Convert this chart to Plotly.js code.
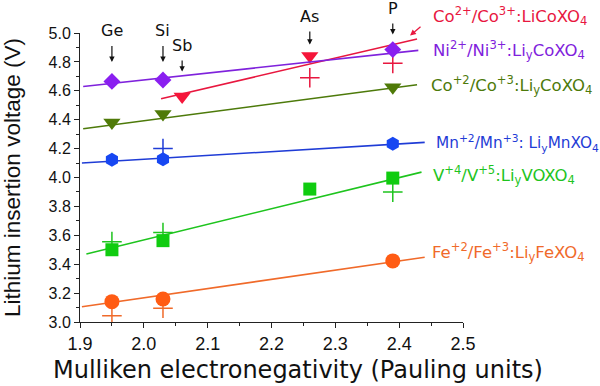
<!DOCTYPE html>
<html>
<head>
<meta charset="utf-8">
<script src="https://cdn.plot.ly/plotly-3.0.1.min.js"></script>
<style>html,body{margin:0;padding:0;background:#fff;}#chart{width:600px;height:386px;}</style>
</head>
<body>
<div id="chart"></div>
<script>
// ---- Data ----
const elements = ['Ge', 'Si', 'Sb', 'As', 'P'];
const elementX = [1.95, 2.03, 2.06, 2.26, 2.39];
const elementArrowTipY = [4.80, 4.80, 4.733, 4.92, 4.99];
const elementLabelOffset = [-31, -31, -26, -28, -26];

// Co2+/Co3+ : LiCoXO4 (red)
const coRedX = [2.06, 2.26];
const coRedY = [4.56, 4.84];
const coRedCalcX = [2.26, 2.39];
const coRedCalcY = [4.69, 4.79];
const coRedFitX = [2.027, 2.428];
const coRedFitY = [4.545, 4.959];

// Ni2+/Ni3+ (purple)
const niX = [1.95, 2.03, 2.39];
const niY = [4.665, 4.675, 4.885];
const niFitX = [1.905, 2.43];
const niFitY = [4.63, 4.88];

// Co+2/Co+3 : LiyCoXO4 (olive)
const coX = [1.95, 2.03, 2.39];
const coY = [4.38, 4.44, 4.625];
const coFitX = [1.905, 2.428];
const coFitY = [4.337, 4.642];

// Mn+2/Mn+3 (blue)
const mnX = [1.95, 2.03, 2.39];
const mnY = [4.123, 4.127, 4.234];
const mnCalcX = [2.03];
const mnCalcY = [4.20];
const mnFitX = [1.903, 2.44];
const mnFitY = [4.10, 4.243];

// V+4/V+5 (green)
const vX = [1.95, 2.03, 2.26, 2.39];
const vY = [3.50, 3.563, 3.92, 3.996];
const vCalcX = [1.95, 2.03, 2.39];
const vCalcY = [3.556, 3.619, 3.899];
const vFitX = [1.91, 2.435];
const vFitY = [3.471, 4.037];

// Fe+2/Fe+3 (orange)
const feX = [1.95, 2.03, 2.39];
const feY = [3.141, 3.159, 3.423];
const feCalcX = [1.95, 2.03];
const feCalcY = [3.044, 3.095];
const feFitX = [1.903, 2.44];
const feFitY = [3.106, 3.448];

const xTicks = [1.9, 2.0, 2.1, 2.2, 2.3, 2.4, 2.5];
const xTickText = ['1.9', '2.0', '2.1', '2.2', '2.3', '2.4', '2.5'];
const yTicks = [3.0, 3.2, 3.4, 3.6, 3.8, 4.0, 4.2, 4.4, 4.6, 4.8, 5.0];
const yTickText = ['3.0', '3.2', '3.4', '3.6', '3.8', '4.0', '4.2', '4.4', '4.6', '4.8', '5.0'];
const xTitle = 'Mulliken electronegativity (Pauling units)';
const yTitle = 'Lithium insertion voltage (V)';

const seriesLabels = [
  'Co<sup>2+</sup>/Co<sup>3+</sup>:LiCoXO<sub>4</sub>',
  'Ni<sup>2+</sup>/Ni<sup>3+</sup>:Li<sub>y</sub>CoXO<sub>4</sub>',
  'Co<sup>+2</sup>/Co<sup>+3</sup>:Li<sub>y</sub>CoXO<sub>4</sub>',
  'Mn<sup>+2</sup>/Mn<sup>+3</sup>: Li<sub>y</sub>MnXO<sub>4</sub>',
  'V<sup>+4</sup>/V<sup>+5</sup>:Li<sub>y</sub>VOXO<sub>4</sub>',
  'Fe<sup>+2</sup>/Fe<sup>+3</sup>:Li<sub>y</sub>FeXO<sub>4</sub>'
];

// ---- Styles ----
const C = {
  red: '#e8173f', redM: '#f5163a',
  purple: '#7f22dc', purpleM: '#8a1ff0',
  olive: '#4d7a0a', oliveM: '#4f7a08',
  blue: '#1f3cd6', blueM: '#1747f2',
  green: '#1ec41e', greenM: '#10cc10',
  orange: '#f06a2a', orangeM: '#ff5c14'
};
const labelPx = [[431, 16], [431, 50], [429, 85], [434, 143], [431, 175], [430, 252]];
const labelSizes = [16.5, 16.5, 16.5, 15.3, 16.5, 16.5];
const labelColors = [C.red, C.purple, C.olive, C.blue, C.green, C.orange];

const L = 80, R = 137, T = 33, B = 64, W = 600, H = 386;
const pw = W - L - R, ph = H - T - B;

function fit(x, y, color) {
  return {x: x, y: y, type: 'scatter', mode: 'lines', line: {color: color, width: 1.6}, hoverinfo: 'skip'};
}
function pts(x, y, symbol, size, color) {
  return {x: x, y: y, type: 'scatter', mode: 'markers', marker: {symbol: symbol, size: size, color: color, line: {width: 0}}};
}
function calc(x, y, color) {
  return {x: x, y: y, type: 'scatter', mode: 'markers', marker: {symbol: 'cross-thin', size: 14, color: color, line: {color: color, width: 1.5}}};
}

const data = [
  fit(feFitX, feFitY, C.orange), calc(feCalcX, feCalcY, C.orange), pts(feX, feY, 'circle', 15, C.orangeM),
  fit(vFitX, vFitY, C.green), calc(vCalcX, vCalcY, C.green), pts(vX, vY, 'square', 13, C.greenM),
  fit(mnFitX, mnFitY, C.blue), calc(mnCalcX, mnCalcY, C.blue), pts(mnX, mnY, 'hexagon', 14, C.blueM),
  fit(coFitX, coFitY, C.olive), pts(coX, coY, 'triangle-down', 15, C.oliveM),
  fit(coRedFitX, coRedFitY, C.red), calc(coRedCalcX, coRedCalcY, C.red), pts(coRedX, coRedY, 'triangle-down', 15, C.redM),
  fit(niFitX, niFitY, C.purple), pts(niX, niY, 'diamond', 13, C.purpleM)
];

const annotations = [];
elements.forEach((el, i) => {
  annotations.push({
    x: elementX[i], y: elementArrowTipY[i], xref: 'x', yref: 'y',
    text: el, showarrow: true, ax: 0, ay: elementLabelOffset[i],
    arrowhead: 2, arrowsize: 0.9, arrowwidth: 1.2, arrowcolor: '#111', startstandoff: 4,
    font: {family: 'DejaVu Sans', size: 16, color: '#111'}
  });
});
// small red arrow pointing to the Co2+/Co3+ line
annotations.push({
  x: 2.417, y: 4.982, xref: 'x', yref: 'y', text: '', showarrow: true,
  ax: 12, ay: -10, arrowhead: 2, arrowsize: 0.9, arrowwidth: 1.3, arrowcolor: C.red
});
seriesLabels.forEach((t, i) => {
  annotations.push({
    x: (labelPx[i][0] - L) / pw, y: (H - B - labelPx[i][1]) / ph,
    xref: 'paper', yref: 'paper', xanchor: 'left', yanchor: 'middle',
    text: t, showarrow: false,
    font: {family: 'DejaVu Sans', size: labelSizes[i], color: labelColors[i]}
  });
});
// x-axis title (offset to the right as in the reference)
annotations.push({
  x: (297.5 - L) / pw, y: (H - B - 370) / ph, xref: 'paper', yref: 'paper',
  xanchor: 'center', yanchor: 'middle', showarrow: false, text: xTitle,
  font: {family: 'DejaVu Sans', size: 24, color: '#111'}
});

const layout = {
  width: W, height: H,
  margin: {l: L, r: R, t: T, b: B, pad: 0},
  paper_bgcolor: '#fff', plot_bgcolor: '#fff',
  showlegend: false,
  xaxis: {
    range: [1.9, 2.5], tickvals: xTicks, ticktext: xTickText,
    showgrid: false, zeroline: false, showline: true, linecolor: '#222', linewidth: 1,
    ticks: 'outside', ticklen: 5, tickcolor: '#222', tickwidth: 1,
    minor: {dtick: 0.05, tick0: 1.9, ticks: 'outside', ticklen: 3, tickcolor: '#222', showgrid: false},
    tickfont: {family: 'Liberation Sans', size: 18, color: '#111'},
    title: {text: ''}
  },
  yaxis: {
    range: [3.0, 5.0], tickvals: yTicks, ticktext: yTickText,
    showgrid: false, zeroline: false, showline: true, linecolor: '#222', linewidth: 1,
    ticks: 'outside', ticklen: 5, tickcolor: '#222', tickwidth: 1,
    minor: {dtick: 0.1, tick0: 3.0, ticks: 'outside', ticklen: 3, tickcolor: '#222', showgrid: false},
    tickfont: {family: 'Liberation Sans', size: 16, color: '#111'},
    title: {text: yTitle, standoff: 24,
      font: {family: 'Liberation Sans', size: 22.5, color: '#111'}}
  },
  annotations: annotations
};

Plotly.newPlot('chart', data, layout, {displayModeBar: false, staticPlot: true});
</script>
</body>
</html>
